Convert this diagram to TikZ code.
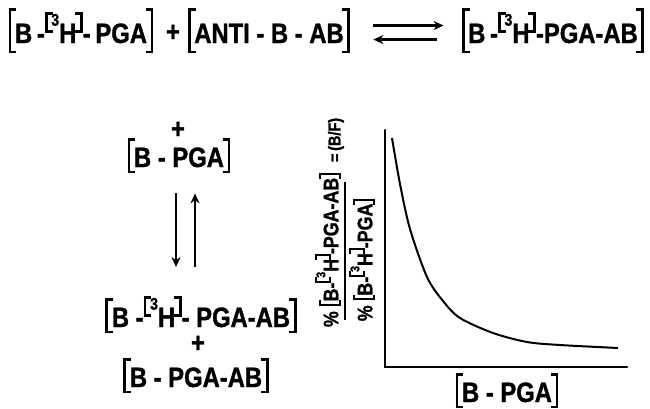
\documentclass[tikz,border=0pt]{standalone}
\usepackage{fontspec}
\setmainfont{Liberation Sans}[FakeStretch=0.85, FakeBold=1.2]
\usepackage{tikz}
\usetikzlibrary{arrows.meta}

% brackets drawn from rules: #1 top above baseline, #2 depth below it
\newcommand\obr[2]{\rule[-#2]{.1em}{\dimexpr#1+#2\relax}\kern-.1em\rule[-#2]{.28em}{.09em}\kern-.28em\rule[\dimexpr#1-.09em\relax]{.28em}{.09em}\kern-.05em}
\newcommand\cbr[2]{\kern-.05em\rule[\dimexpr#1-.09em\relax]{.28em}{.09em}\kern-.28em\rule[-#2]{.28em}{.09em}\kern-.1em\rule[-#2]{.1em}{\dimexpr#1+#2\relax}}
\newcommand\bk[1]{\obr{1.25em}{.36em}#1\cbr{1.25em}{.36em}}
\newcommand\sbk[1]{\obr{1.02em}{.22em}#1\cbr{1.02em}{.22em}}
\newcommand\tbk[1]{\obr{.9em}{.12em}#1\cbr{.9em}{.12em}}
\newcommand\tH{\obr{1.1em}{-.36em}\raisebox{.62em}{\fontsize{.6em}{.6em}\selectfont 3}H\cbr{1.1em}{-.36em}}

\begin{document}
\begin{tikzpicture}[
    x=1pt, y=-1pt,
    chem/.style={font=\fontsize{28}{30}\selectfont\bfseries, inner sep=0pt, anchor=base},
    plus/.style={font=\fontsize{28}{30}\selectfont\bfseries, inner sep=0pt},
    ylab/.style={font=\fontsize{21}{23}\selectfont\bfseries, inner sep=0pt, rotate=90},
    arrow/.style={-{Stealth[length=10pt, width=9pt]}, line width=2.2pt},
    axis/.style={line width=2.4pt, line cap=round},
    curve/.style={line width=2pt}
]
\useasboundingbox (0,0) rectangle (650,408);

% Reaction
\node[chem] (label) at (81,43) {\bk{B\,-\tH-\,PGA}};
\node[plus] (p1) at (173,33) {+};
\node[chem] (anti) at (269,43) {\bk{ANTI - B - AB}};
\node[chem] (prod) at (553,43) {\bk{B\,-\tH-PGA-AB}};

% Displacement
\node[plus] (p2) at (178,130) {+};
\node[chem] (bpga) at (179,167) {\sbk{B - PGA}};
\node[chem] (cplx) at (201,327) {\sbk{B -\tH- PGA-AB}};
\node[plus] (p3) at (198,344) {+};
\node[chem] (bpgaab) at (196,387) {\sbk{B - PGA-AB}};

% Arrows
\draw[arrow, shorten <=23pt, shorten >=18pt] ([yshift=5pt]anti.east) -- ([yshift=5pt]anti.east -| prod.west);
\draw[arrow, shorten <=25pt, shorten >=23pt] ([yshift=-9pt]anti.east -| prod.west) -- ([yshift=-9pt]anti.east);
\draw[arrow, shorten <=20pt, shorten >=29pt] ([xshift=-3pt]bpga.south) -- ([xshift=-3pt]bpga.south |- cplx.north);
\draw[arrow, shorten <=29pt, shorten >=20pt] ([xshift=16pt]bpga.south |- cplx.north) -- ([xshift=16pt]bpga.south);

% Binding curve
\coordinate (origin) at (385,367);
\draw[axis] (385,130) -- (origin) -- (627,367);
\draw[curve] plot[smooth] coordinates {(392,138) (400,184) (410,229) (427,277) (443,301) (460,318) (493,333) (527,342) (560,345) (618,348)};
\node[chem] (xlab) at (507,402) {\sbk{B - PGA}};

% Ordinate label
\node[ylab, anchor=south] (num) at (341,250) {\% \tbk{B-\tH -PGA-AB}};
\node[ylab, anchor=north] (den) at (349,260) {\% \tbk{B-\tH -PGA}};
\node[ylab, font=\fontsize{17}{18}\selectfont\bfseries] (bf) at (336,140) {=\,(B/F)};
\draw[line width=2.4pt] (345,182) -- (345,320);

\end{tikzpicture}
\end{document}
